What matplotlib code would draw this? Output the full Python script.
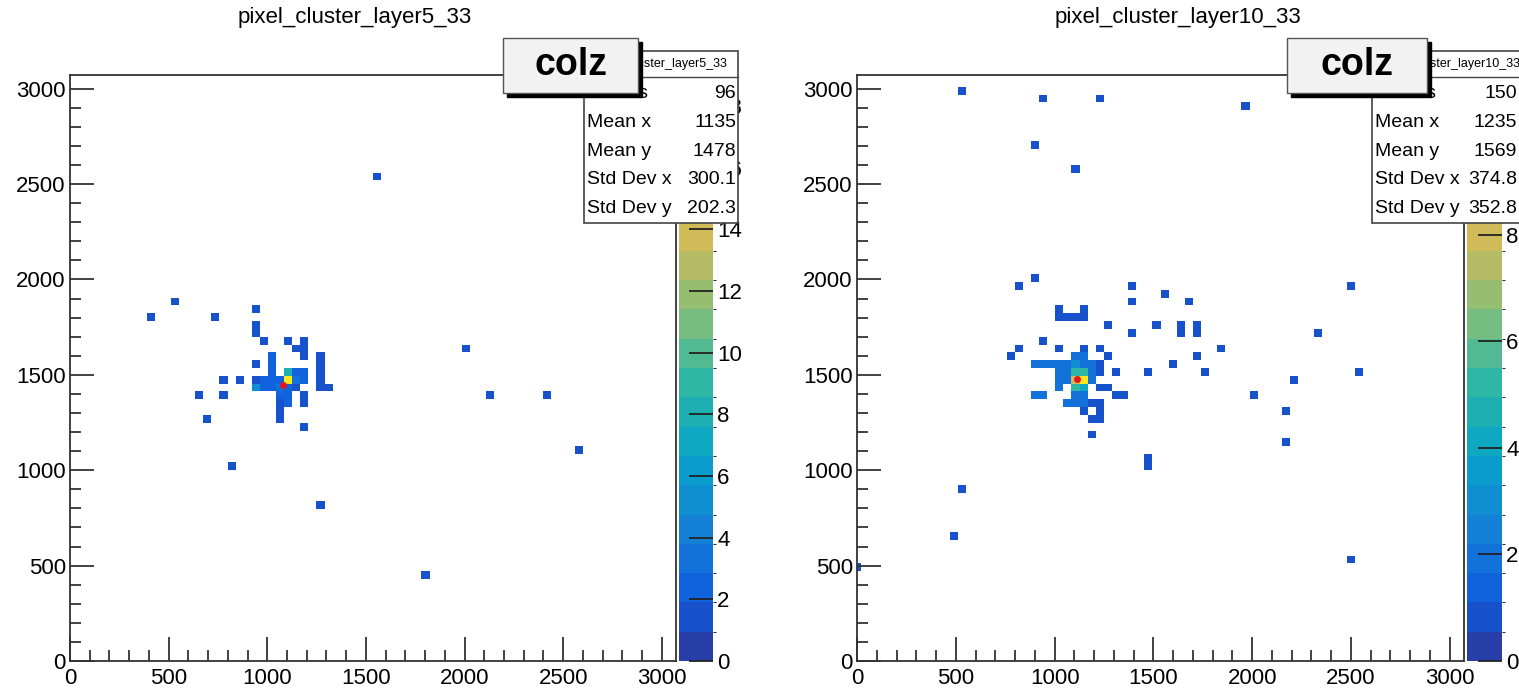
import numpy as np
import matplotlib
matplotlib.use("Agg")
import matplotlib.pyplot as plt
from matplotlib.colors import LinearSegmentedColormap, ListedColormap, BoundaryNorm
from matplotlib.patches import Rectangle

plt.rcParams['font.family'] = ['Liberation Sans', 'DejaVu Sans']

# ---- data: bin centres (x, y) and bin contents ----
titles = ['pixel_cluster_layer5_33', 'pixel_cluster_layer10_33']

l5_x = [1548, 541, 425, 745, 941, 1988, 2114, 2433, 2595, 819, 1270, 1791,
        944, 944, 983, 1113, 1192, 1152, 1192, 1192, 1273, 1028, 1028, 1028, 944,
        1273, 1273, 1113, 1152, 1192,
        784, 863, 944, 983, 1028, 1062, 1113, 1152, 1192, 1273,
        944, 983, 1028, 1062, 1113, 1152, 1273, 1312,
        666, 784, 1062, 1113, 1192,
        1062, 1113, 1192, 1062, 705, 1062, 1192]
l5_y = [2522, 1883, 1799, 1795, 1837, 1636, 1395, 1395, 1112, 1028, 829, 440,
        1753, 1715, 1671, 1671, 1671, 1631, 1631, 1596, 1596, 1596, 1556, 1514, 1556,
        1556, 1514, 1514, 1514, 1514,
        1474, 1474, 1474, 1474, 1474, 1474, 1474, 1474, 1474, 1474,
        1435, 1435, 1435, 1435, 1435, 1435, 1435, 1435,
        1391, 1391, 1391, 1391, 1391,
        1351, 1351, 1351, 1307, 1267, 1267, 1229]
l5_w = [1, 1, 1, 1, 1, 1, 1, 1, 1, 1, 1, 1,
        1, 1, 1, 1, 1, 1, 1, 1, 1, 2, 2, 2, 1,
        1, 1, 8, 2, 2,
        1, 1, 1, 2, 2, 2, 18, 3, 2, 1,
        5, 2, 2, 3, 2, 1, 1, 1,
        1, 1, 2, 2, 1,
        1, 2, 1, 1, 1, 1, 1]

l10_x = [547, 948, 1232, 1956, 887, 1115, 2488, 2326, 2529, 2205, 1997, 2159, 2159,
         1475, 1475, 522, 507, 15, 2483,
         907, 830, 1397, 1556, 1397, 1674, 1034, 1156, 1034, 1074, 1115, 1156,
         1277, 1397, 1515, 1637, 1637, 1715, 1715, 949, 826, 789, 1034, 1156, 1237,
         1277, 1836, 1715, 1598, 1477, 1756, 1316,
         1115, 1156,
         911, 953, 992, 1034, 1074, 1115, 1156, 1198, 1237,
         1034, 1074, 1115, 1156, 1198, 1237,
         1034, 1074, 1115, 1156, 1198,
         1034, 1115, 1156, 1237, 1277,
         911, 953, 1115, 1156, 1316, 1356,
         1074, 1115, 1156, 1198, 1237,
         1156, 1237, 1198, 1237, 1198]
l10_y = [3010, 2931, 2931, 2889, 2690, 2569, 1961, 1720, 1515, 1473, 1395, 1311, 1154,
         1070, 1028, 907, 666, 498, 540,
         2001, 1963, 1963, 1921, 1879, 1879, 1826, 1826, 1792, 1792, 1792, 1792,
         1753, 1715, 1753, 1753, 1705, 1753, 1705, 1675, 1635, 1596, 1635, 1635, 1635,
         1596, 1635, 1596, 1556, 1514, 1514, 1514,
         1596, 1596,
         1556, 1556, 1556, 1556, 1556, 1556, 1556, 1556, 1556,
         1514, 1514, 1514, 1514, 1514, 1514,
         1474, 1474, 1474, 1474, 1474,
         1433, 1433, 1433, 1433, 1433,
         1395, 1395, 1395, 1395, 1395, 1395,
         1353, 1353, 1353, 1353, 1353,
         1312, 1312, 1272, 1272, 1203]
l10_w = [1, 1, 1, 1, 1, 1, 1, 1, 1, 1, 1, 1, 1,
         1, 1, 1, 1, 1, 1,
         1, 1, 1, 1, 1, 1, 1, 1, 1, 1, 1, 1,
         1, 1, 1, 1, 1, 1, 1, 1, 1, 1, 1, 1, 1,
         1, 1, 1, 1, 1, 1, 1,
         2, 2,
         2, 2, 2, 2, 2, 3, 2, 2, 1,
         2, 2, 5, 5, 2, 1,
         2, 2, 8, 10, 2,
         2, 5, 4, 1, 1,
         2, 2, 2, 2, 1, 1,
         2, 2, 2, 1, 1,
         1, 1, 1, 1, 1]

# red marker at the centre of each cluster
centre_x = [1079, 1113]
centre_y = [1447, 1479]

zmax = [19, 11]
stats = [[('Entries', '96'), ('Mean x', '1135'), ('Mean y', '1478'),
          ('Std Dev x', '300.1'), ('Std Dev y', '202.3')],
         [('Entries', '150'), ('Mean x', '1235'), ('Mean y', '1569'),
          ('Std Dev x', '374.8'), ('Std Dev y', '352.8')]]

# ROOT kBird palette
stops = [0, 0.125, 0.25, 0.375, 0.5, 0.625, 0.75, 0.875, 1]
red = [0.2082, 0.0592, 0.0780, 0.0232, 0.1802, 0.5301, 0.8186, 0.9956, 0.9764]
green = [0.1664, 0.3599, 0.5041, 0.6419, 0.7178, 0.7492, 0.7328, 0.7862, 0.9832]
blue = [0.5293, 0.8684, 0.8385, 0.7914, 0.6425, 0.4662, 0.3499, 0.1968, 0.0539]
bird = LinearSegmentedColormap.from_list(
    'bird', [(s, (r, g, b)) for s, r, g, b in zip(stops, red, green, blue)])
ncont = 20
cmap = ListedColormap([bird((k + 0.99) / ncont) for k in range(ncont)])

# 75 bins of 40.96, grid shifted by half a bin
nbin, bw = 75, 40.96
edges = -bw / 2 + bw * np.arange(nbin + 1)

W, H = 1519, 692
fig = plt.figure(figsize=(W / 100, H / 100), dpi=100)

def fx(px):
    return px / W

def fy(py):
    return 1 - py / H

panels = [
    dict(ax=(70, 676), cb=(679, 713), x=l5_x, y=l5_y, w=l5_w,
         title_x=355, box=(584, 738), colz=(503, 638)),
    dict(ax=(857, 1464), cb=(1467, 1502), x=l10_x, y=l10_y, w=l10_w,
         title_x=1178, box=(1372, 1530), colz=(1287, 1427)),
]
top, bot = 75, 661
axcol = '#333333'

for i, p in enumerate(panels):
    ax = fig.add_axes([fx(p['ax'][0]), fy(bot), fx(p['ax'][1] - p['ax'][0]), (bot - top) / H])
    counts, xe, ye = np.histogram2d(p['x'], p['y'], bins=[edges, edges], weights=p['w'])
    counts = np.ma.masked_equal(counts, 0)
    levels = np.linspace(0, zmax[i], ncont + 1)
    norm = BoundaryNorm(levels, ncont)
    mesh = ax.pcolormesh(xe, ye, counts.T, cmap=cmap, norm=norm)
    ax.plot(centre_x[i], centre_y[i], 'o', color='#e8131b', ms=5, mec='none')
    ax.set_xlim(0, 3072)
    ax.set_ylim(0, 3072)
    ax.set_xticks(np.arange(0, 3001, 500))
    ax.set_yticks(np.arange(0, 3001, 500))
    ax.set_xticks(np.arange(0, 3072, 100), minor=True)
    ax.set_yticks(np.arange(0, 3072, 100), minor=True)
    ax.tick_params(which='both', direction='in', top=False, right=False,
                   color=axcol, width=1.3, labelsize=16)
    ax.tick_params(which='major', length=17)
    ax.tick_params(which='minor', length=8)
    ax.tick_params(axis='x', pad=5)
    ax.tick_params(axis='y', pad=3)
    for s in ax.spines.values():
        s.set_color(axcol)
        s.set_linewidth(1.3)

    cax = fig.add_axes([fx(p['cb'][0]), fy(bot), fx(p['cb'][1] - p['cb'][0]), (bot - top) / H])
    cb = fig.colorbar(mesh, cax=cax)
    cb.outline.set_visible(False)
    cb.set_ticks(np.arange(0, zmax[i] + 0.1, 2))
    cax.tick_params(direction='in', length=17, width=1.3, color='#222222',
                    labelsize=16, pad=3)

    fig.text(fx(p['title_x']), fy(18), titles[i], ha='center', va='center', fontsize=16)

    # stats box
    bx0, bx1 = p['box']
    fig.patches.append(Rectangle((fx(bx0), fy(223)), fx(bx1 - bx0), (223 - 51) / H,
                                 transform=fig.transFigure, facecolor='white',
                                 edgecolor='#444444', lw=1.2, zorder=5))
    fig.lines.append(plt.Line2D([fx(bx0), fx(bx1)], [fy(77), fy(77)],
                                transform=fig.transFigure, color='#444444', lw=1, zorder=6))
    fig.text(fx((bx0 + bx1) / 2), fy(64), titles[i], ha='center', va='center',
             fontsize=9, zorder=7)
    for j, (lab, val) in enumerate(stats[i]):
        yy = fy(94 + 28.5 * j)
        fig.text(fx(bx0 + 3), yy, lab, ha='left', va='center', fontsize=14, zorder=7)
        fig.text(fx(min(bx1, W) - 2), yy, val, ha='right', va='center', fontsize=14, zorder=7)

    # "colz" label with shadow
    cx0, cx1 = p['colz']
    fig.patches.append(Rectangle((fx(cx0 + 4), fy(97)), fx(cx1 - cx0), (93 - 38) / H,
                                 transform=fig.transFigure, facecolor='black',
                                 edgecolor='black', zorder=8))
    fig.patches.append(Rectangle((fx(cx0), fy(93)), fx(cx1 - cx0), (93 - 38) / H,
                                 transform=fig.transFigure, facecolor='#f2f2f2',
                                 edgecolor='#555555', lw=1, zorder=9))
    fig.text(fx((cx0 + cx1) / 2), fy(65), 'colz', ha='center', va='center',
             fontsize=27, fontweight='bold', zorder=10)

fig.savefig('out.png', dpi=100)
